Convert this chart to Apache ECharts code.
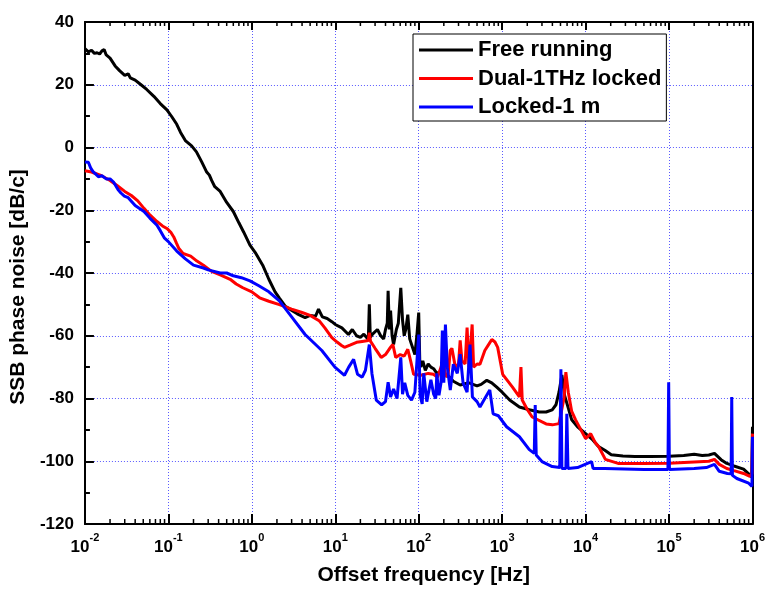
<!DOCTYPE html>
<html><head><meta charset="utf-8">
<script src="https://cdn.jsdelivr.net/npm/echarts@6/dist/echarts.min.js"></script>
<style>html,body{margin:0;padding:0;background:#fff}#c{width:768px;height:591px}</style>
</head><body><div id="c"></div>
<script>
const seriesNames = ['Free running', 'Dual-1THz locked', 'Locked-1 m'];
const seriesColors = ['#000000', '#ff0000', '#0000ff'];

const freeF = [0.01,0.011,0.012,0.013,0.014,0.015,0.016,0.017,0.018,0.02,0.023,0.026,0.03,0.033,0.035,0.04,0.047,0.055,0.067,0.08,0.096,0.11,0.126,0.14,0.161,0.19,0.217,0.25,0.286,0.31,0.33,0.36,0.418,0.5,0.6,0.7,0.8,0.95,1.1,1.35,1.6,1.9,2.14,2.5,3.05,3.5,4.35,5.0,5.8,6.3,6.6,7,8,9.1,10,12,14.4,16,18,20,22,24.9,25.6,26.3,28,32,35,38,40,42,43,44.5,46,48,50,54,57,61,64,67,70,74,78,85,90,95,100,103,106,112,120,130,140,151,165,180,200,230,260,314,400,500,560,655,750,861,1000,1230,1610,2115,2780,3365,3980,4416,4800,5200,5600,6820,8000,10000,12000,14260,17000,20300,28000,38900,60000,100000,150000,200000,250000,300000,350000,420000,492000,600000,782000,900000,980000,1000000];
const freeV = [31.5,30.5,31,30,30.2,29.8,30.8,31.2,29.5,28.5,26,24.5,23,23.5,22.2,21.5,20,18.5,16.3,14,12,9.8,7.4,4.8,2.1,0.5,-1.4,-4.5,-7.7,-8.8,-10.5,-12.5,-14,-17.5,-20.4,-24,-27,-31.1,-33.5,-37.5,-42,-46,-48,-50.5,-52,-53,-54.2,-53.5,-53.8,-51.5,-52,-54,-54.5,-55.5,-56.4,-57.5,-59.6,-58,-60,-60.5,-59.5,-61.2,-50,-60.5,-59.5,-58,-60,-61,-58,-56,-45.7,-58,-52,-60,-62.8,-58,-56,-44.7,-55,-60,-58,-53.3,-61,-64,-66,-60,-52.6,-68,-70,-68,-71,-69,-70,-70.5,-72,-71.5,-72.5,-73,-74.5,-75.7,-75,-76,-75.5,-74.2,-75,-76.4,-78,-80.5,-82.7,-83.6,-84.3,-84.3,-83.6,-82,-78,-72.5,-79,-86.8,-89,-91.2,-93,-95.3,-96.5,-97.9,-98.3,-98.5,-98.5,-98.4,-98.2,-97.8,-98.2,-98,-97.5,-99.5,-100.7,-101.5,-102.5,-104,-105,-89];

const dualF = [0.01,0.012,0.0158,0.02,0.0245,0.03,0.036,0.043,0.051,0.06,0.073,0.085,0.096,0.107,0.116,0.125,0.133,0.15,0.185,0.22,0.263,0.33,0.418,0.55,0.65,0.78,1.0,1.24,1.6,2.14,3.0,4.0,5.0,6.4,7.5,9.1,10.5,11.9,12.9,15,18,21,24.9,25.6,26.5,30,35.5,40,45,49,53,60,67,74,80,87,106,130,150,168,185,198,210,225,239,250,275,300,314,330,360,380,400,437,455,500,542,620,700,752,820,884,1015,1330,1610,1680,1740,2000,2290,3365,4000,4800,5500,5800,6200,6800,7590,10000,11500,13000,14300,17260,24500,50000,100000,200000,300000,350000,400000,492000,600000,782000,930000,985000,1000000];
const dualV = [-7.4,-7.8,-9,-10.5,-12.2,-14,-15.3,-17,-19.4,-21.5,-23.6,-25,-25.8,-27,-28.5,-30.5,-32.1,-33.8,-34.6,-36.2,-37.5,-39.5,-40.6,-42,-43.5,-44.7,-46,-47.9,-49,-50.1,-51.5,-52.6,-53.5,-55.2,-57.5,-60.6,-62,-63.1,-63.7,-63,-62.1,-61.8,-61.5,-59,-61.8,-64,-66.9,-66,-64,-62.8,-66.9,-66,-66.5,-64.3,-68,-72.3,-72.6,-72,-72.3,-73.2,-70,-67.8,-73,-72.5,-64.7,-64,-70,-69,-61.5,-68,-69,-57.4,-70,-56.4,-70,-69,-69.1,-64.7,-62.5,-61.2,-62,-63.7,-72.3,-76.4,-79.5,-70,-80.5,-83.5,-85.9,-88.1,-88.4,-88,-80,-71.6,-78,-84,-86.8,-92.8,-91.2,-94,-95.3,-99.4,-100.7,-100.7,-100.6,-100.2,-100,-99.4,-101,-102.3,-103,-103.9,-104.8,-104,-91.2];

const lockF = [0.01,0.0105,0.011,0.0117,0.0125,0.0135,0.0145,0.016,0.018,0.02,0.022,0.025,0.027,0.0297,0.033,0.04,0.051,0.06,0.073,0.08,0.09,0.1,0.126,0.16,0.2,0.263,0.3,0.418,0.5,0.6,0.75,0.95,1.2,1.6,2.14,3.05,4.35,6.9,9.9,12.9,14.5,16.6,18.5,21,23,25.6,27.5,31,36,40,43,46,50,55,61,64,68,74,82,90,100,104,110,115,125,140,151,160,165,175,185,192,200,209,220,239,260,290,314,340,380,412,440,500,542,620,711,780,900,1130,1610,2115,2425,2490,2560,3000,3980,4900,5060,5200,5800,5960,6150,8000,11800,12300,17000,50000,97000,99000,101000,200000,280000,350000,400000,500000,555000,564000,575000,650000,900000,985000,1000000];
const lockV = [-4.6,-4.4,-4.7,-6.5,-7.7,-8.5,-9.3,-9,-10,-10,-11,-13.5,-14.5,-15.5,-16,-18.5,-20.4,-22.5,-24.8,-26.5,-28.9,-30,-33,-35.5,-37.5,-38.4,-39,-40,-40,-40.9,-41.5,-42.5,-44,-46,-48.9,-54.2,-59.6,-64.7,-70,-72.6,-70,-67.5,-72.3,-73.2,-71,-62.8,-72,-80.5,-82,-81,-74.8,-79.5,-77,-80,-66.9,-78.6,-75,-79,-80.5,-78,-59.6,-79,-81.7,-72,-81,-74,-78.6,-80,-72,-79,-75,-58.3,-75,-56.4,-70,-77.3,-69.1,-72,-65.9,-75,-78,-62.8,-79.5,-81,-82.7,-80,-77.3,-84.9,-85.5,-89,-92.2,-96.3,-97.5,-82.1,-98,-100.1,-101.7,-102,-70.7,-102.3,-102.3,-84.9,-102.3,-102,-100.1,-102.3,-102.3,-102.6,-102.6,-74.8,-102.6,-102.3,-102,-101,-103.2,-103.9,-104,-79.5,-104.5,-105.5,-107,-108,-92.2];

const xDecades = [-2, -1, 0, 1, 2, 3, 4, 5, 6];
const minorMultipliers = [2, 3, 4, 5, 6, 7, 8, 9];
const yMin = -120, yMax = 40, yStep = 20;

const FONT = 'Arial, "Liberation Sans", sans-serif';
const zip = (f, v) => f.map((x, i) => [x, v[i]]);
const minorTicks = [];
xDecades.slice(0, -1).forEach(e => minorMultipliers.forEach(m => minorTicks.push([m * Math.pow(10, e)])));

const chart = echarts.init(document.getElementById('c'), null, {renderer: 'canvas'});
const gridLine = {show: true, lineStyle: {color: '#5a5aff', type: [1, 2], width: 1}};
const option = {
  animation: false,
  backgroundColor: '#ffffff',
  grid: {left: 80, top: 22, right: 12, bottom: 63, containLabel: false},
  legend: {
    data: seriesNames, orient: 'vertical', left: 413, top: 34,
    itemWidth: 54, itemHeight: 3, icon: 'rect', itemGap: 6.5,
    padding: [5, 5, 3, 6], borderColor: '#000', borderWidth: 1, backgroundColor: '#fff',
    textStyle: {fontSize: 22, fontWeight: 'bold', fontFamily: FONT, color: '#000', lineHeight: 22}
  },
  xAxis: [{
    type: 'log', logBase: 10, min: 0.01, max: 1e6, splitNumber: 8, position: 'bottom',
    name: 'Offset frequency [Hz]', nameLocation: 'middle', nameGap: 41,
    nameTextStyle: {fontSize: 21, fontWeight: 'bold', fontFamily: FONT, color: '#000', padding: [0, 0, 0, 10]},
    axisLine: {show: true, onZero: false, lineStyle: {color: '#000', width: 2}},
    axisTick: {show: true, inside: true, length: 10, lineStyle: {color: '#000', width: 2}},
    axisLabel: {
      show: true, margin: 8, showMinLabel: true, showMaxLabel: true,
      formatter: v => '{b|10}{s|' + Math.round(Math.log10(v)) + '}',
      rich: {
        b: {fontSize: 17, fontWeight: 'bold', fontFamily: FONT, color: '#000', lineHeight: 24, verticalAlign: 'bottom'},
        s: {fontSize: 11, fontWeight: 'bold', fontFamily: FONT, color: '#000', lineHeight: 12, verticalAlign: 'top'}
      }
    },
    splitLine: gridLine
  }, {
    type: 'log', logBase: 10, min: 0.01, max: 1e6, splitNumber: 8, position: 'top',
    axisLine: {show: true, onZero: false, lineStyle: {color: '#000', width: 2}},
    axisTick: {show: true, inside: true, length: 8, lineStyle: {color: '#000', width: 2}},
    axisLabel: {show: false}, splitLine: {show: false}
  }],
  yAxis: [{
    type: 'value', min: yMin, max: yMax, interval: yStep, position: 'left',
    name: 'SSB phase noise [dB/c]', nameLocation: 'middle', nameGap: 48, nameRotate: 90,
    nameTextStyle: {fontSize: 21, fontWeight: 'bold', fontFamily: FONT, color: '#000', padding: [0, 28, 0, 0]},
    axisLine: {show: true, onZero: false, lineStyle: {color: '#000', width: 2}},
    axisTick: {show: true, inside: true, length: 9, lineStyle: {color: '#000', width: 2}},
    minorTick: {show: true, splitNumber: 2, length: 5, lineStyle: {color: '#000', width: 2}},
    axisLabel: {fontSize: 17, fontWeight: 'bold', fontFamily: FONT, color: '#000', margin: 11},
    splitLine: gridLine
  }, {
    type: 'value', min: yMin, max: yMax, interval: yStep, position: 'right',
    axisLine: {show: true, onZero: false, lineStyle: {color: '#000', width: 2}},
    axisTick: {show: false}, axisLabel: {show: false}, splitLine: {show: false}
  }],
  series: [
    {type: 'custom', name: 'minorTicks', xAxisIndex: 0, yAxisIndex: 0, silent: true, clip: false, z: 5,
     data: minorTicks, encode: {x: 0},
     renderItem: (params, api) => {
       const v = api.value(0);
       const b = api.coord([v, yMin]);
       const t = api.coord([v, yMax]);
       return {type: 'group', children: [
         {type: 'line', shape: {x1: b[0], y1: b[1], x2: b[0], y2: b[1] - 5}, style: {stroke: '#000', lineWidth: 1.5}},
         {type: 'line', shape: {x1: t[0], y1: t[1], x2: t[0], y2: t[1] + 4}, style: {stroke: '#000', lineWidth: 1.5}}
       ]};
     }},
    {type: 'line', name: seriesNames[0], data: zip(freeF, freeV), showSymbol: false, symbol: 'none', color: seriesColors[0], lineStyle: {width: 3, color: seriesColors[0]}, z: 2},
    {type: 'line', name: seriesNames[1], data: zip(dualF, dualV), showSymbol: false, symbol: 'none', color: seriesColors[1], lineStyle: {width: 3, color: seriesColors[1]}, z: 3},
    {type: 'line', name: seriesNames[2], data: zip(lockF, lockV), showSymbol: false, symbol: 'none', color: seriesColors[2], lineStyle: {width: 3, color: seriesColors[2]}, z: 4}
  ]
};
chart.setOption(option);
</script></body></html>
